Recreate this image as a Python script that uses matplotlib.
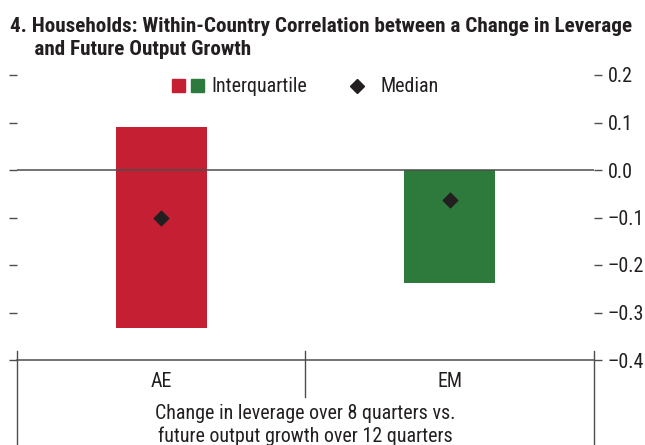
import matplotlib
matplotlib.use("Agg")
import matplotlib.pyplot as plt
from matplotlib.lines import Line2D
from matplotlib.patches import Patch
from matplotlib.legend_handler import HandlerTuple

plt.rcParams["font.family"] = ["Roboto Condensed", "Liberation Sans Narrow",
                               "Liberation Sans", "DejaVu Sans"]

# ----------------------------------------------------------------------
# Data: interquartile range and median of within-country correlations
# ----------------------------------------------------------------------
groups = ["AE", "EM"]
q25 = [-0.332, -0.238]
q75 = [0.091, 0.0]
medians = [-0.10, -0.063]
bar_colors = ["#C41F33", "#2E7A3C"]

y_ticks = [0.2, 0.1, 0.0, -0.1, -0.2, -0.3, -0.4]
y_tick_labels = ["0.2", "0.1", "0.0", "\u20130.1", "\u20130.2", "\u20130.3", "\u20130.4"]

title = ("4. Households: Within-Country Correlation between a Change in Leverage\n"
         "     and Future Output Growth")
caption = "Change in leverage over 8 quarters vs.\nfuture output growth over 12 quarters"

TEXT = "#231F20"
AXIS = "#4D4D4D"
FS = 14.4

fig = plt.figure(figsize=(6.45, 4.45), dpi=100)
ax = fig.add_axes([17 / 645, 1 - 360 / 445, 577 / 645, 285 / 445])

x_pos = [0.5, 1.5]
heights = [hi - lo for lo, hi in zip(q25, q75)]
ax.bar(x_pos, heights, bottom=q25, width=0.315, color=bar_colors, zorder=2)
ax.scatter(x_pos, medians, marker="D", s=55, color=TEXT, zorder=4)
ax.axhline(0, color=AXIS, lw=1.1, zorder=3)

ax.set_xlim(0, 2)
ax.set_ylim(-0.4, 0.2)
ax.set_xticks([])
ax.set_yticks(y_ticks)
ax.set_yticklabels(y_tick_labels)
ax.tick_params(axis="y", which="both", left=True, right=True,
               labelleft=False, labelright=True, direction="out",
               length=6, width=1, color=AXIS, labelsize=FS,
               labelcolor=TEXT, pad=4)

for side in ["top", "left", "right"]:
    ax.spines[side].set_visible(False)
ax.spines["bottom"].set_color(AXIS)
ax.spines["bottom"].set_linewidth(1.1)

# category separators below the axis
trans = ax.get_xaxis_transform()
for xv, y_end in [(0, -0.33), (1, -0.13), (2, -0.33)]:
    ax.add_line(Line2D([xv, xv], [0.03, y_end], transform=trans,
                       color=AXIS, lw=1, clip_on=False))

for xv, name in zip(x_pos, groups):
    ax.text(xv, -0.077, name, transform=trans, ha="center", va="center",
            fontsize=FS, color=TEXT)
ax.text(1.0, -0.228, caption, transform=trans, ha="center", va="center",
        fontsize=FS, color=TEXT, linespacing=1.21)

# legend
handles = [(Patch(color=bar_colors[0]), Patch(color=bar_colors[1])),
           Line2D([], [], marker="D", ls="none", color=TEXT, markersize=7.5)]
ax.legend(handles, ["Interquartile", "Median"],
          handler_map={tuple: HandlerTuple(ndivide=None, pad=0.3)},
          loc="center", bbox_to_anchor=(0.5, 0.958), ncol=2,
          frameon=False, fontsize=FS, handlelength=1.6, handleheight=0.65,
          handletextpad=0.35, columnspacing=1.7, labelcolor=TEXT,
          borderpad=0, borderaxespad=0)

fig.text(10 / 645, 1 - 17 / 445, title, ha="left", va="top",
         fontsize=15.2, fontweight="bold", color=TEXT, linespacing=1.26)

fig.savefig("out.png", dpi=100)
